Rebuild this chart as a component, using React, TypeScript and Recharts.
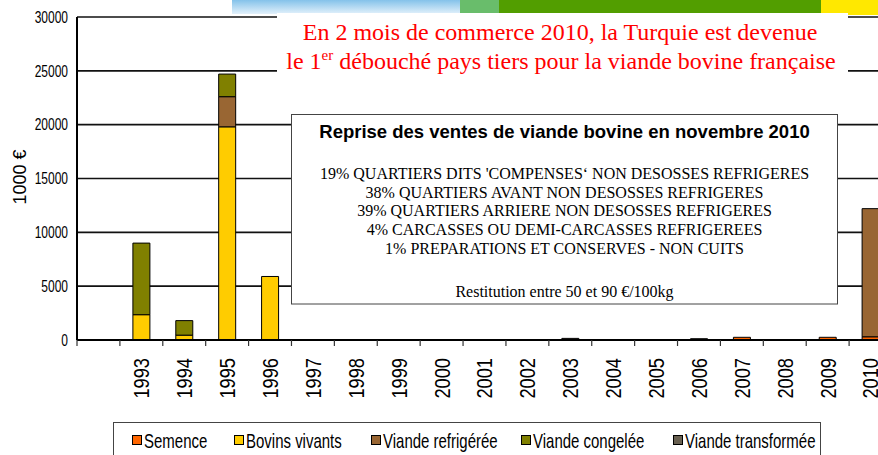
import { Bar, BarChart, CartesianGrid, Legend, XAxis, YAxis } from "recharts";

// values in 1000 €
const years = ["", "1993", "1994", "1995", "1996", "1997", "1998", "1999", "2000", "2001", "2002", "2003", "2004", "2005", "2006", "2007", "2008", "2009", "2010"];
const semence = [0, 0, 0, 0, 0, 0, 0, 0, 0, 0, 0, 0, 0, 0, 0, 250, 0, 250, 300];
const bovinsVivants = [0, 2350, 450, 19800, 5900, 0, 0, 0, 0, 0, 0, 0, 0, 0, 0, 0, 0, 0, 0];
const viandeRefrigeree = [0, 0, 0, 2800, 0, 0, 0, 0, 0, 0, 0, 0, 0, 0, 0, 0, 0, 0, 11900];
const viandeCongelee = [0, 6650, 1350, 2100, 0, 0, 0, 0, 0, 0, 0, 0, 0, 0, 0, 0, 0, 0, 0];
const viandeTransformee = [0, 0, 0, 0, 0, 0, 0, 0, 0, 0, 0, 150, 0, 0, 120, 0, 0, 0, 0];
const yTicks = [0, 5000, 10000, 15000, 20000, 25000, 30000];

const series = [
  { key: "semence", name: "Semence", color: "#ff6600" },
  { key: "bovins", name: "Bovins vivants", color: "#ffcc00" },
  { key: "refrigeree", name: "Viande refrigérée", color: "#996633" },
  { key: "congelee", name: "Viande congelée", color: "#808000" },
  { key: "transformee", name: "Viande transformée", color: "#686050" },
];

const chartData = years.map((year, i) => ({
  year,
  semence: semence[i],
  bovins: bovinsVivants[i],
  refrigeree: viandeRefrigeree[i],
  congelee: viandeCongelee[i],
  transformee: viandeTransformee[i],
}));

const infoLines = [
  "19% QUARTIERS DITS 'COMPENSES‘ NON DESOSSES REFRIGERES",
  "38% QUARTIERS AVANT NON DESOSSES REFRIGERES",
  "39% QUARTIERS ARRIERE NON DESOSSES REFRIGERES",
  "4% CARCASSES OU DEMI-CARCASSES REFRIGEREES",
  "1% PREPARATIONS ET CONSERVES - NON CUITS",
];

const legendX = [19, 121, 258, 408, 560];

const CHART_W = 900;
const CHART_H = 455;
const AXIS_W = 77;
const RIGHT = 8;
const BAND = (CHART_W - AXIS_W - RIGHT) / years.length;
const SANS = "'Liberation Sans', Arial, sans-serif";
const SERIF = "'Liberation Serif', 'Times New Roman', serif";

const YTick = ({ x, y, payload }: any) => (
  <text
    transform={`translate(${x},${y}) scale(0.75,1)`}
    textAnchor="end"
    dy="0.36em"
    fontSize={16}
    fontFamily={SANS}
    fill="#000"
  >
    {payload.value}
  </text>
);

const XTick = ({ x, y, payload }: any) => (
  <g>
    <line x1={x - BAND / 2} x2={x - BAND / 2} y1={y} y2={y + 6} stroke="#333" strokeWidth={1.2} />
    <text
      transform={`translate(${x},${y + 18}) rotate(-90) scale(0.83,1)`}
      textAnchor="end"
      dy="0.36em"
      fontSize={22}
      fontFamily={SANS}
      fill="#000"
    >
      {payload.value}
    </text>
  </g>
);

const LegendBox = ({ payload }: any) => {
  // keep the series order rather than the legend's alphabetical sort
  const items = series.map((s) => {
    const entry = (payload ?? []).find((p: any) => p.dataKey === s.key);
    return { label: entry?.value ?? s.name, color: entry?.color ?? s.color };
  });
  return (
    <svg width={708} height={40} style={{ display: "block" }}>
      <rect x={0.5} y={0.5} width={707} height={45} fill="#fff" stroke="#444" />
      {items.map((item, i) => (
        <g key={item.label}>
          <rect x={legendX[i] + 0.5} y={13.5} width={9} height={9} fill={item.color} stroke="#000" />
          <text
            transform={`translate(${legendX[i] + 12},19) scale(0.75,1)`}
            dy="0.36em"
            fontSize={20}
            fontFamily={SANS}
            fill="#000"
          >
            {item.label}
          </text>
        </g>
      ))}
    </svg>
  );
};

const Overlay = () => (
  <svg width={878} height={455} style={{ position: "absolute", left: 0, top: 0, pointerEvents: "none" }}>
    <defs>
      <linearGradient id="skyBand" x1="0" y1="0" x2="0" y2="1">
        <stop offset="0%" stopColor="#84c2ea" />
        <stop offset="100%" stopColor="#e3f1fb" />
      </linearGradient>
    </defs>
    <rect x={232} y={0} width={228} height={14} fill="url(#skyBand)" />
    <rect x={460} y={0} width={39} height={14} fill="#69bd6b" />
    <rect x={499} y={0} width={322} height={14} fill="#529e00" />
    <rect x={821} y={0} width={57} height={15} fill="#ffe800" />
    <rect x={277} y={13} width={571} height={63} fill="#fff" />
    <text x={560} y={40} textAnchor="middle" fontSize={24} fontFamily={SERIF} fill="#ff0000">
      En 2 mois de commerce 2010, la Turquie est devenue
    </text>
    <text x={561} y={69} textAnchor="middle" fontSize={24} fontFamily={SERIF} fill="#ff0000">
      le 1
      <tspan fontSize={15} dy={-9}>er</tspan>
      <tspan dy={9}> débouché pays tiers pour la viande bovine française</tspan>
    </text>

    <rect x={291.5} y={114.5} width={546} height={189.5} fill="#fff" stroke="#444" />
    <text x={564.5} y={138} textAnchor="middle" fontSize={18.5} fontWeight="bold" fontFamily={SANS} fill="#000">
      Reprise des ventes de viande bovine en novembre 2010
    </text>
    {infoLines.map((line, i) => (
      <text key={line} x={564.5} y={179 + i * 18.7} textAnchor="middle" fontSize={16} fontFamily={SERIF} fill="#000">
        {line}
      </text>
    ))}
    <text x={564.5} y={297} textAnchor="middle" fontSize={16} fontFamily={SERIF} fill="#000">
      Restitution entre 50 et 90 €/100kg
    </text>

    <text transform="translate(19.5,177) rotate(-90)" textAnchor="middle" dy="0.36em" fontSize={18} fontFamily={SANS} fill="#000">
      1000 €
    </text>
  </svg>
);

export default function App() {
  return (
    <div style={{ position: "fixed", left: 0, top: 0, width: 878, height: 455, overflow: "hidden", background: "#fff" }}>
      <BarChart
        width={CHART_W}
        height={CHART_H}
        data={chartData}
        margin={{ top: 17, right: RIGHT, left: 0, bottom: 0 }}
        barSize={17}
      >
        <CartesianGrid vertical={false} stroke="#111" strokeWidth={1.6} />
        <XAxis
          dataKey="year"
          interval={0}
          height={115}
          tickLine={false}
          tickSize={0}
          tickMargin={0}
          tick={<XTick />}
          axisLine={{ stroke: "#000", strokeWidth: 2 }}
        />
        <YAxis
          width={AXIS_W}
          domain={[0, 30000]}
          ticks={yTicks}
          interval={0}
          tickLine={false}
          tickSize={0}
          tickMargin={9}
          tick={<YTick />}
          axisLine={{ stroke: "#000", strokeWidth: 2 }}
        />
        <Legend
          layout="horizontal"
          verticalAlign="middle"
          align="center"
          content={<LegendBox />}
          wrapperStyle={{ left: 113, top: 422, width: 708, height: 40 }}
        />
        {series.map((s) => (
          <Bar
            key={s.key}
            dataKey={s.key}
            name={s.name}
            stackId="total"
            fill={s.color}
            stroke="#000"
            strokeWidth={1}
            isAnimationActive={false}
          />
        ))}
      </BarChart>
      <Overlay />
    </div>
  );
}
